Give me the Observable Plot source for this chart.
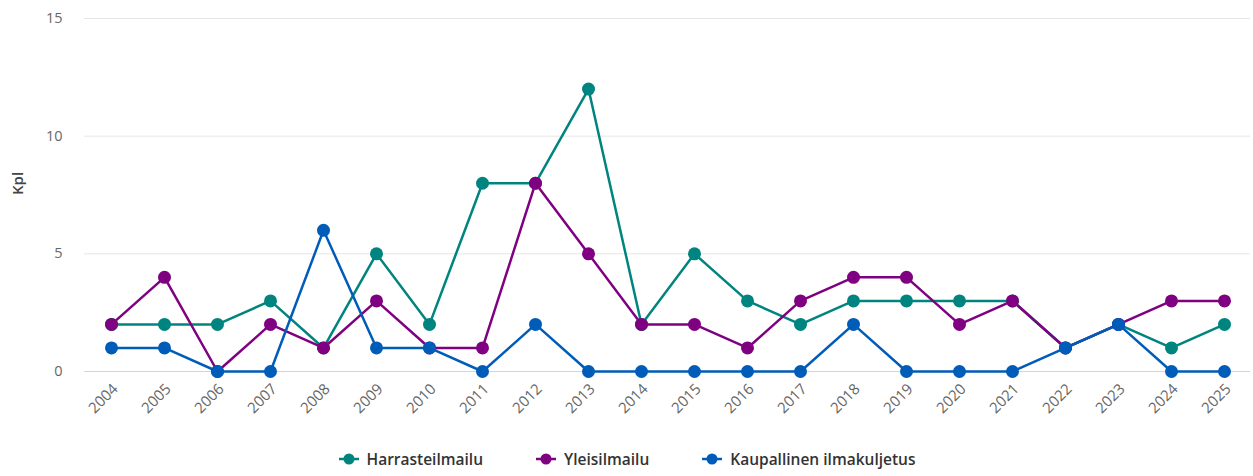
<!DOCTYPE html>
<html>
<head>
<meta charset="utf-8">
<script src="https://cdn.jsdelivr.net/npm/d3@7"></script>
<script src="https://cdn.jsdelivr.net/npm/@observablehq/plot@0.6"></script>
<style>
  html, body { margin: 0; padding: 0; background: #fff; }
  #chart { width: 1253px; font-family: "Open Sans", sans-serif; }
  #legend { display: flex; justify-content: center; gap: 52px; height: 35px; align-items: center; font-size: 15.5px; font-weight: 600; color: #333; margin-top: 0; padding-left: 0; }
  #legend .item { display: flex; align-items: center; gap: 7px; }
</style>
</head>
<body>
<div id="chart"></div>
<script>
const years = ["2004","2005","2006","2007","2008","2009","2010","2011","2012","2013","2014","2015","2016","2017","2018","2019","2020","2021","2022","2023","2024","2025"];
const seriesNames = ["Harrasteilmailu", "Yleisilmailu", "Kaupallinen ilmakuljetus"];
const seriesColors = ["#00847f", "#7f0080", "#005cb9"];
const harrasteilmailu = [2,2,2,3,1,5,2,8,8,12,2,5,3,2,3,3,3,3,1,2,1,2];
const yleisilmailu    = [2,4,0,2,1,3,1,1,8,5,2,2,1,3,4,4,2,3,1,2,3,3];
const kaupallinen     = [1,1,0,0,6,1,1,0,2,0,0,0,0,0,2,0,0,0,1,2,0,0];
const yTicks = [0, 5, 10, 15];

const allValues = [harrasteilmailu, yleisilmailu, kaupallinen];
const data = [];
allValues.forEach((vals, si) => {
  vals.forEach((v, i) => data.push({year: years[i], value: v, series: seriesNames[si]}));
});

const plot = Plot.plot({
  width: 1253,
  height: 441,
  marginLeft: 84,
  marginRight: 3,
  marginTop: 18,
  marginBottom: 70,
  style: {fontFamily: "Open Sans, sans-serif", fontSize: "15px", color: "#666"},
  x: {type: "point", domain: years, padding: 0.5, label: null},
  y: {domain: [0, 15], label: null},
  color: {domain: seriesNames, range: seriesColors},
  marks: [
    Plot.gridY(yTicks, {stroke: "#e6e6e6", strokeOpacity: 1, strokeWidth: 1}),
    Plot.ruleY([0], {stroke: "#ccd6eb", strokeWidth: 1}),
    Plot.axisY(yTicks, {tickSize: 0, tickPadding: 0, dx: -22, fill: "#666", fontSize: 14.5, label: null}),
    Plot.axisX(years, {tickSize: 0, tickRotate: -45, tickPadding: 15, dx: 4, fill: "#666", fontSize: 15, label: null}),
    Plot.text(["Kpl"], {frameAnchor: "left", dx: -66, rotate: -90, fill: "#444", fontSize: 15, fontWeight: 600}),
    Plot.line(data, {x: "year", y: "value", z: "series", stroke: "series", strokeWidth: 2.5}),
    Plot.dot(data, {x: "year", y: "value", fill: "series", r: 6.5, stroke: "none"})
  ]
});
document.getElementById("chart").appendChild(plot);

const legend = document.createElement("div");
legend.id = "legend";
seriesNames.forEach((name, i) => {
  const item = document.createElement("div");
  item.className = "item";
  item.innerHTML = `<svg width="22" height="12"><line x1="1" x2="21" y1="6" y2="6" stroke="${seriesColors[i]}" stroke-width="2.5"/><circle cx="11" cy="6" r="5.5" fill="${seriesColors[i]}"/></svg><span>${name}</span>`;
  legend.appendChild(item);
});
document.getElementById("chart").appendChild(legend);
</script>
</body>
</html>
